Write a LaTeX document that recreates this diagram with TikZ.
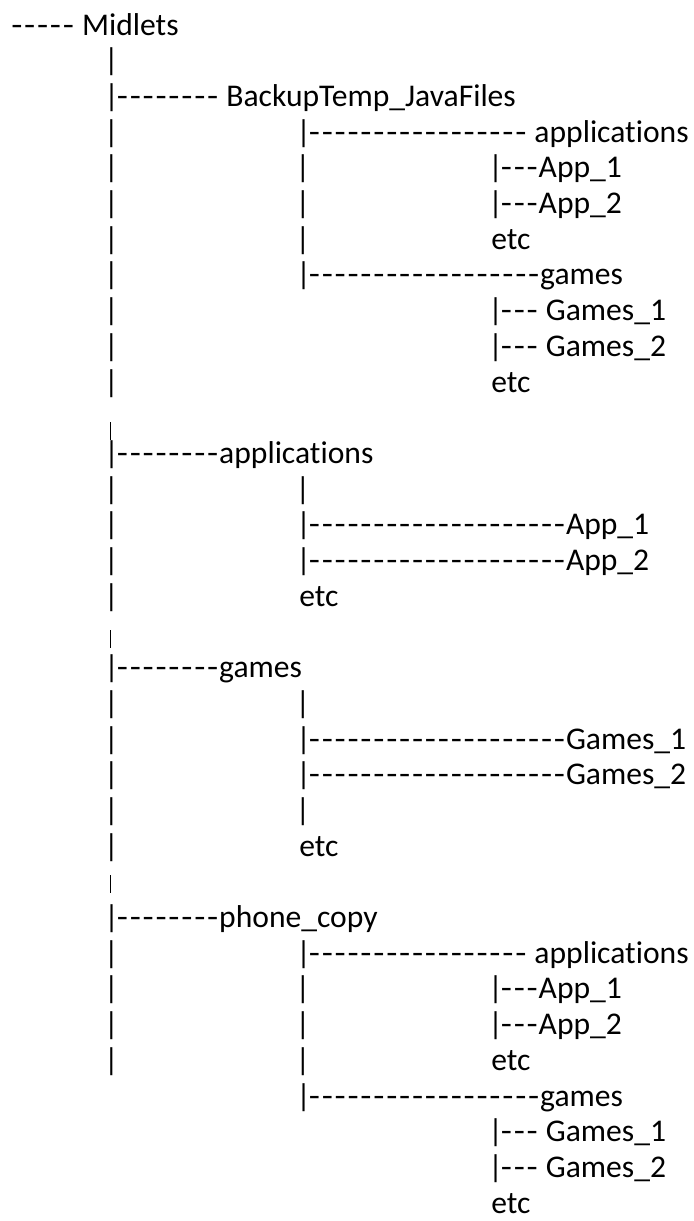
\documentclass[tikz,border=0pt]{standalone}
\usepackage{fontspec}
\setmainfont[Ligatures={NoCommon}]{Carlito}
\newcommand{\dashrun}[1]{\foreach \k in {1,...,#1}{\makebox[6.45pt][c]{\scalebox{1.15}[1]{-}}}}
\newcommand{\tbar}{\makebox[4.3pt][c]{|}}
\tikzset{
  every picture/.style={x=0.5pt, y=-0.5pt},
  row/.style={anchor=base west, inner sep=0pt, font=\fontsize{15.8pt}{19pt}\selectfont},
  pipe/.style={row, anchor=base},
  cursor/.style={draw=black, line width=0.5pt},
}

\begin{document}
\begin{tikzpicture}
  \useasboundingbox (0,0) rectangle (693,1221);
  % labelled rows
  \foreach \r/\x/\t in {
    0/10/\dashrun{5} Midlets,
    2/107/\tbar\dashrun{8} BackupTemp\_JavaFiles,
    3/299/\tbar\dashrun{17} applications,
    4/491/\tbar\dashrun{3}App\_1,
    5/491/\tbar\dashrun{3}App\_2,
    6/491/etc,
    7/299/\tbar\dashrun{18}games,
    8/491/\tbar\dashrun{3} Games\_1,
    9/491/\tbar\dashrun{3} Games\_2,
    10/491/etc,
    12/107/\tbar\dashrun{8}applications,
    14/299/\tbar\dashrun{20}App\_1,
    15/299/\tbar\dashrun{20}App\_2,
    16/299/etc,
    18/107/\tbar\dashrun{8}games,
    20/299/\tbar\dashrun{20}Games\_1,
    21/299/\tbar\dashrun{20}Games\_2,
    23/299/etc,
    25/107/\tbar\dashrun{8}phone\_copy,
    26/299/\tbar\dashrun{17} applications,
    27/491/\tbar\dashrun{3}App\_1,
    28/491/\tbar\dashrun{3}App\_2,
    29/491/etc,
    30/299/\tbar\dashrun{18}games,
    31/491/\tbar\dashrun{3} Games\_1,
    32/491/\tbar\dashrun{3} Games\_2,
    33/491/etc}
    \node[row] (t\r) at (\x,{35+35.7*\r}) {\t};
  % plain bars
  \foreach \r in {1,3,4,5,6,7,8,9,10,13,14,15,16,19,20,21,22,23,26,27,28,29}
    \node[pipe] (ba\r) at (111.5,{35+35.7*\r}) {|};
  \foreach \r in {4,5,6,13,19,22,27,28,29}
    \node[pipe] (bb\r) at (303,{35+35.7*\r}) {|};
  % thin marks between groups
  \foreach \y in {422,630,875}
    \draw[cursor] (110.5,\y) -- (110.5,\y+18);
\end{tikzpicture}
\end{document}
